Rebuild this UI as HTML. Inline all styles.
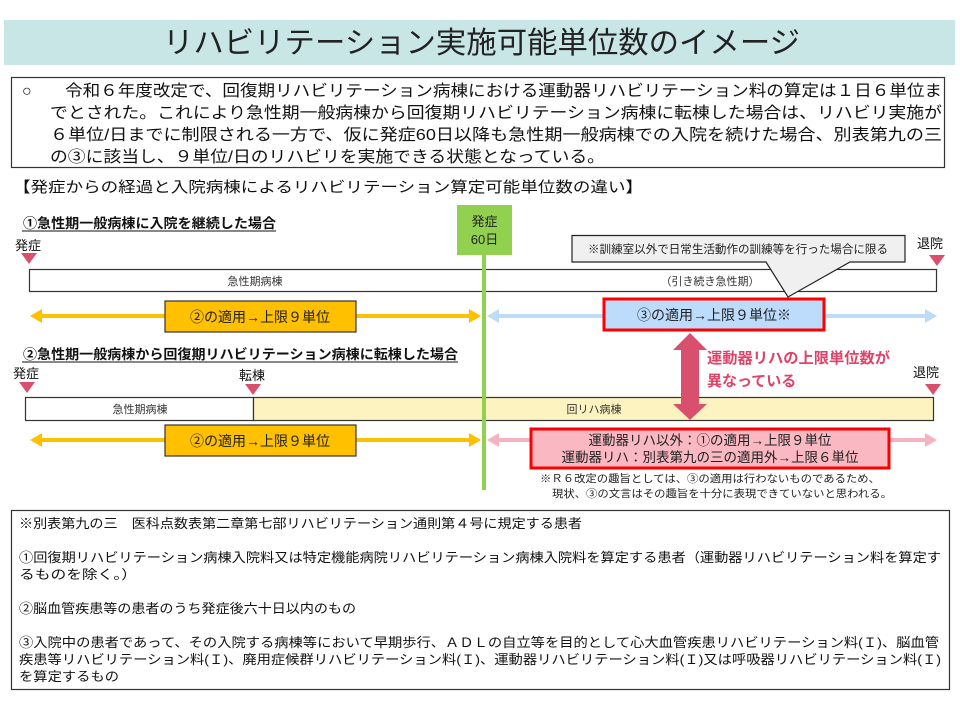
<!DOCTYPE html>
<html><head><meta charset="utf-8"><style>
body{margin:0;background:#fff}
svg{display:block;font-family:"Liberation Sans","Noto Sans CJK JP",sans-serif}
</style></head><body>
<svg width="960" height="720" viewBox="0 0 960 720" xmlns="http://www.w3.org/2000/svg">
<rect x="0" y="0" width="960" height="720" fill="#fff"/>
<!-- title -->
<rect x="4" y="20" width="951" height="45" fill="#c8e6e6"/>
<text x="163" y="53" font-size="30" fill="#222" textLength="637" lengthAdjust="spacingAndGlyphs">リハビリテーション実施可能単位数のイメージ</text>
<!-- top box -->
<rect x="11.5" y="77.5" width="933" height="90" fill="#fff" stroke="#333" stroke-width="1.2"/>
<g font-size="16" fill="#111">
<text x="22" y="96">○</text>
<text x="65" y="96" textLength="877" lengthAdjust="spacingAndGlyphs">令和６年度改定で、回復期リハビリテーション病棟における運動器リハビリテーション料の算定は１日６単位ま</text>
<text x="50" y="118" textLength="892" lengthAdjust="spacingAndGlyphs">でとされた。これにより急性期一般病棟から回復期リハビリテーション病棟に転棟した場合は、リハビリ実施が</text>
<text x="50" y="140" textLength="892" lengthAdjust="spacingAndGlyphs">６単位/日までに制限される一方で、仮に発症60日以降も急性期一般病棟での入院を続けた場合、別表第九の三</text>
<text x="50" y="162" textLength="555" lengthAdjust="spacingAndGlyphs">の③に該当し、９単位/日のリハビリを実施できる状態となっている。</text>
</g>
<text x="13" y="192" font-size="15" fill="#111" textLength="630" lengthAdjust="spacingAndGlyphs">【発症からの経過と入院病棟によるリハビリテーション算定可能単位数の違い】</text>

<!-- section 1 -->
<text x="23" y="228" font-size="13.5" font-weight="bold" fill="#111" textLength="253" lengthAdjust="spacingAndGlyphs">①急性期一般病棟に入院を継続した場合</text>
<line x1="22" y1="231" x2="276" y2="231" stroke="#111" stroke-width="1"/>
<text x="15" y="250" font-size="13" fill="#111">発症</text>
<polygon points="21,253 37,253 29,264" fill="#d9506e"/>
<rect x="29.5" y="269.5" width="907" height="22" fill="#fff" stroke="#333" stroke-width="1.2"/>
<text x="255" y="285" font-size="11" fill="#333" text-anchor="middle">急性期病棟</text>
<text x="710" y="285" font-size="11" fill="#333" text-anchor="middle">（引き続き急性期）</text>
<text x="917" y="248" font-size="13" fill="#111">退院</text>
<polygon points="929,255 945,255 937,266" fill="#d9506e"/>

<!-- orange arrow row1 -->
<line x1="40" y1="316" x2="472" y2="316" stroke="#ffc000" stroke-width="4"/>
<polygon points="30,316 42,309 42,323" fill="#ffc000"/>
<polygon points="481,316 469,309 469,323" fill="#ffc000"/>
<rect x="165" y="301" width="191" height="31" fill="#ffc000" stroke="#333" stroke-width="1.2"/>
<text x="260" y="322" font-size="14" fill="#222" text-anchor="middle">②の適用→上限９単位</text>
<!-- blue arrow -->
<line x1="497" y1="316" x2="928" y2="316" stroke="#bcdcf8" stroke-width="4"/>
<polygon points="487,316 499,309 499,323" fill="#bcdcf8"/>
<polygon points="937,316 925,309 925,323" fill="#bcdcf8"/>
<rect x="604" y="299" width="220" height="31" fill="#bddcfb" stroke="#ff0000" stroke-width="3"/>
<text x="714" y="320" font-size="14" fill="#222" text-anchor="middle">③の適用→上限９単位※</text>

<!-- callout -->
<polygon points="572,235.5 905,235.5 905,262 850,262 788,297 766,262 572,262" fill="#f0f0f0" stroke="#222" stroke-width="1.2"/>
<text x="738" y="253" font-size="11.5" fill="#222" text-anchor="middle" textLength="300" lengthAdjust="spacingAndGlyphs">※訓練室以外で日常生活動作の訓練等を行った場合に限る</text>

<!-- section 2 -->
<text x="23" y="359" font-size="13.5" font-weight="bold" fill="#111" textLength="435" lengthAdjust="spacingAndGlyphs">②急性期一般病棟から回復期リハビリテーション病棟に転棟した場合</text>
<line x1="22" y1="362" x2="458" y2="362" stroke="#111" stroke-width="1"/>
<text x="13" y="378" font-size="13" fill="#111">発症</text>
<polygon points="19,382 35,382 27,393" fill="#d9506e"/>
<text x="239" y="380" font-size="13" fill="#111">転棟</text>
<polygon points="245,384 261,384 253,395" fill="#d9506e"/>
<rect x="25.5" y="397.5" width="228" height="23" fill="#fff" stroke="#333" stroke-width="1.2"/>
<rect x="253.5" y="397.5" width="680" height="23" fill="#fdf3c0" stroke="#333" stroke-width="1.2"/>
<text x="140" y="413" font-size="11" fill="#333" text-anchor="middle">急性期病棟</text>
<text x="594" y="413" font-size="11" fill="#333" text-anchor="middle">回リハ病棟</text>
<text x="913" y="377" font-size="13" fill="#111">退院</text>
<polygon points="925,384 941,384 933,395" fill="#d9506e"/>

<!-- row 2 arrows -->
<line x1="40" y1="440" x2="472" y2="440" stroke="#ffc000" stroke-width="4"/>
<polygon points="30,440 42,433 42,447" fill="#ffc000"/>
<polygon points="481,440 469,433 469,447" fill="#ffc000"/>
<rect x="165" y="425" width="191" height="31" fill="#ffc000" stroke="#333" stroke-width="1.2"/>
<text x="260" y="446" font-size="14" fill="#222" text-anchor="middle">②の適用→上限９単位</text>
<line x1="497" y1="440" x2="928" y2="440" stroke="#f6b3bf" stroke-width="4"/>
<polygon points="487,440 499,433 499,447" fill="#f6b3bf"/>
<polygon points="937,440 925,433 925,447" fill="#f6b3bf"/>
<rect x="531" y="429" width="358" height="39" fill="#f9b8c2" stroke="#ff0000" stroke-width="3"/>
<text x="710" y="445" font-size="13.5" fill="#222" text-anchor="middle">運動器リハ以外：①の適用→上限９単位</text>
<text x="710" y="462" font-size="13.5" fill="#222" text-anchor="middle">運動器リハ：別表第九の三の適用外→上限６単位</text>
<text x="540" y="482" font-size="10.5" fill="#222" textLength="340" lengthAdjust="spacingAndGlyphs">※Ｒ６改定の趣旨としては、③の適用は行わないものであるため、</text>
<text x="552" y="497" font-size="10.5" fill="#222" textLength="340" lengthAdjust="spacingAndGlyphs">現状、③の文言はその趣旨を十分に表現できていないと思われる。</text>

<!-- double arrow -->
<polygon points="690,333 707,350 699,350 699,404 707,404 690,420 673,404 681,404 681,350 673,350" fill="#d9506e"/>
<text x="707" y="363" font-size="15" font-weight="bold" fill="#e0436a" textLength="183" lengthAdjust="spacingAndGlyphs">運動器リハの上限単位数が</text>
<text x="707" y="386" font-size="15" font-weight="bold" fill="#e0436a">異なっている</text>

<!-- green marker -->
<line x1="484" y1="250" x2="484" y2="490" stroke="#92d050" stroke-width="4"/>
<rect x="457" y="205" width="55" height="50" fill="#92d050"/>
<text x="484.5" y="226" font-size="13" fill="#222" text-anchor="middle">発症</text>
<text x="484.5" y="244" font-size="13" fill="#222" text-anchor="middle">60日</text>

<!-- bottom box -->
<rect x="11.5" y="510.5" width="938" height="179" fill="#fff" stroke="#333" stroke-width="1.2"/>
<g font-size="13" fill="#111">
<text x="19" y="528" textLength="563" lengthAdjust="spacingAndGlyphs">※別表第九の三　医科点数表第二章第七部リハビリテーション通則第４号に規定する患者</text>
<text x="19" y="562" textLength="922" lengthAdjust="spacingAndGlyphs">①回復期リハビリテーション病棟入院料又は特定機能病院リハビリテーション病棟入院料を算定する患者（運動器リハビリテーション料を算定す</text>
<text x="19" y="579" textLength="118" lengthAdjust="spacingAndGlyphs">るものを除く。）</text>
<text x="19" y="613" textLength="337" lengthAdjust="spacingAndGlyphs">②脳血管疾患等の患者のうち発症後六十日以内のもの</text>
<text x="19" y="647" textLength="920" lengthAdjust="spacingAndGlyphs">③入院中の患者であって、その入院する病棟等において早期歩行、ＡＤＬの自立等を目的として心大血管疾患リハビリテーション料(Ｉ)、脳血管</text>
<text x="19" y="664" textLength="922" lengthAdjust="spacingAndGlyphs">疾患等リハビリテーション料(Ｉ)、廃用症候群リハビリテーション料(Ｉ)、運動器リハビリテーション料(Ｉ)又は呼吸器リハビリテーション料(Ｉ)</text>
<text x="19" y="681" textLength="100" lengthAdjust="spacingAndGlyphs">を算定するもの</text>
</g>
</svg>
</body></html>
